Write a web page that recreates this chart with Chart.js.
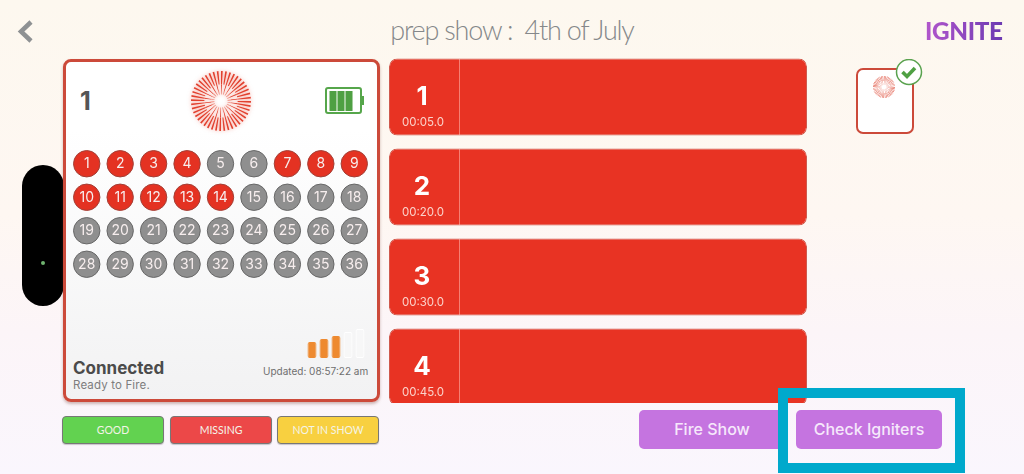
<!DOCTYPE html>
<html>
<head>
<meta charset="utf-8">
<title>prep show</title>
<script src="https://cdn.jsdelivr.net/npm/chart.js@4"></script>
<style>
html, body { margin: 0; padding: 0; }
body { width: 1024px; height: 474px; overflow: hidden; position: relative; font-family: Inter, Roboto, sans-serif;
  background: linear-gradient(180deg, #fdf8ef 0%, #fef7f2 45%, #fcf5f8 70%, #faf6fd 100%); }
.abs { position: absolute; }
canvas { position: absolute; display: block; }
#title { left: 312px; width: 400px; top: 13px; text-align: center; font: 300 27px Lato, sans-serif; color: #85888a; letter-spacing: -1.2px; white-space: pre; }
#logo { left: 925px; top: 16px; font: 900 24.3px Lato, sans-serif; letter-spacing: -.35px;
  background: linear-gradient(90deg, #b256cc, #6c3ab2); -webkit-background-clip: text; background-clip: text; color: transparent; }
#pill { left: 22px; top: 165px; width: 42px; height: 141px; border-radius: 21px; background: #000; }
#dot { left: 41px; top: 261px; width: 4px; height: 4px; border-radius: 50%; background: #6fb36f; }
#panel { left: 62.5px; top: 59px; width: 311px; height: 337px; border: 3px solid #cc4a3a; border-radius: 8px;
  background: linear-gradient(180deg, #fff 0%, #fff 20%, #f2f2f3 100%); box-shadow: 0 2px 3px rgba(120,60,50,.35); }
#panelNo { left: 80px; top: 86px; font: 700 25px Inter, sans-serif; color: #555; }
#batt { left: 325px; top: 87px; width: 33px; height: 23px; border: 2px solid #56a64b; border-radius: 3px; }
#battTip { left: 362px; top: 96px; width: 2px; height: 9px; background: #56a64b; }
#connected { left: 73px; top: 358px; font: 700 17px Inter, sans-serif; color: #4b4b4b; }
#ready { left: 73px; top: 378px; font: 400 11.5px Inter, sans-serif; color: #7d7d7d; letter-spacing: .15px; }
#updated { left: 263px; top: 365px; font: 400 10px Inter, sans-serif; color: #6f6f6f; white-space: nowrap; }
.key { top: 416px; height: 26px; width: 100px; border: 1px solid #777; border-radius: 4px; text-align: center; font: 400 10.5px/26px Lato, sans-serif; color: #f4f4e8; box-shadow: 0 1px 1px rgba(0,0,0,.2); }
#thumb { left: 856px; top: 68px; width: 54px; height: 62px; border: 2px solid #cc4a3a; border-radius: 7px; background: #fff; }
#check { left: 895px; top: 59px; }
.btn { top: 410px; height: 39px; border-radius: 5px; background: #c574e0; color: #f6e8fb; text-align: center; font: 500 16px/39px Inter, sans-serif; }
#frame { left: 778px; top: 388px; width: 167px; height: 65px; border: 10px solid #00a9cc; }
#cueClip { left: 389px; top: 52px; width: 418px; height: 351px; overflow: hidden; }
</style>
</head>
<body>
<svg class="abs" style="left:16px;top:18px" width="20" height="28"><polyline points="15,4 5,13.5 15,23" fill="none" stroke="#8e9193" stroke-width="4.5"/></svg>
<div class="abs" id="title">prep show :  4th of July</div>
<div class="abs" id="logo">IGNITE</div>
<div class="abs" id="pill"></div>
<div class="abs" id="dot"></div>

<div class="abs" id="panel"></div>
<div class="abs" id="panelNo">1</div>
<canvas id="burstChart" width="60" height="60" style="left:190.5px;top:71px;filter:drop-shadow(0 0 2px rgba(232,70,50,.55))"></canvas>
<div class="abs" id="batt"></div>
<div class="abs" id="battTip"></div>
<canvas id="batteryChart" width="32" height="20" style="left:329px;top:91px"></canvas>
<canvas id="padChart" width="301" height="134" style="left:70px;top:147px"></canvas>
<canvas id="signalChart" width="60" height="32" style="left:306px;top:326px"></canvas>
<div class="abs" id="connected">Connected</div>
<div class="abs" id="ready">Ready to Fire.</div>
<div class="abs" id="updated">Updated: 08:57:22 am</div>

<div class="abs key" style="left:62px;background:#62d250">GOOD</div>
<div class="abs key" style="left:170px;background:#ec4848">MISSING</div>
<div class="abs key" style="left:277px;background:#f8d040">NOT IN SHOW</div>

<div class="abs" id="cueClip"><canvas id="cueChart" width="418" height="360" style="left:0;top:0"></canvas></div>

<div class="abs" id="thumb"></div>
<canvas id="thumbBurst" width="22" height="22" style="left:873px;top:76px"></canvas>
<svg class="abs" id="check" width="30" height="28"><circle cx="14" cy="13" r="12.5" fill="#fff" stroke="#5aa24f" stroke-width="1.5"/><polyline points="7.5,13 12,17.5 20,9" fill="none" stroke="#4fa043" stroke-width="3.6"/></svg>

<div class="abs btn" style="left:639px;width:146px">Fire Show</div>
<div class="abs btn" style="left:796px;width:146px">Check Igniters</div>
<div class="abs" id="frame"></div>

<script>
const padNumbers = ['1','2','3','4','5','6','7','8','9','10','11','12','13','14','15','16','17','18',
    '19','20','21','22','23','24','25','26','27','28','29','30','31','32','33','34','35','36'];
const padColumns = [1,2,3,4,5,6,7,8,9,1,2,3,4,5,6,7,8,9,1,2,3,4,5,6,7,8,9,1,2,3,4,5,6,7,8,9];
const padRows = [1,1,1,1,1,1,1,1,1,2,2,2,2,2,2,2,2,2,3,3,3,3,3,3,3,3,3,4,4,4,4,4,4,4,4,4];
const padArmed = [1,1,1,1,0,0,1,1,1,1,1,1,1,1,0,0,0,0,0,0,0,0,0,0,0,0,0,0,0,0,0,0,0,0,0,0];

const cueNumbers = ['1','2','3','4'];
const cueTimes = ['00:05.0','00:20.0','00:30.0','00:45.0'];
const cueValues = [100,100,100,100];

const signalBars = ['1','2','3','4','5'];
const signalHeights = [16,19,22,26,29];
const signalActive = [1,1,1,0,0];

const batteryCells = ['1','2','3','4'];
const batteryLevels = [1,1,1,0];

const burstRays = [2,3,2,3,2,3,2,3,2,3,2,3,2,3,2,3,2,3,2,3,2,3,2,3,2,3,2,3,2,3,2,3,2,3,2,3,2,3,2,3,2,3,2,3,
    2,3,2,3,2,3,2,3,2,3,2,3,2,3,2,3,2,3,2,3,2,3,2,3,2,3,2,3,2,3,2,3,2,3,2,3,2,3,2,3,2,3,2,3];
const burstDashes = [1,2,1,2,1,2,1,2,1,2,1,2,1,2,1,2,1,2,1,2,1,2,1,2,1,2,1,2,1,2,1,2,1,2,1,2,1,2,1,2,1,2,1,2];

const off = { legend: { display: false }, tooltip: { enabled: false } };
const hidden = { display: false };

// number labels on the igniter pads
const padLabels = {
    id: 'padLabels',
    afterDatasetsDraw(chart) {
        const c = chart.ctx;
        c.save();
        c.font = '400 14px Inter';
        c.fillStyle = '#f7eeee';
        c.textAlign = 'center';
        c.textBaseline = 'middle';
        chart.getDatasetMeta(0).data.forEach((p, i) => c.fillText(padNumbers[i], p.x, p.y + 0.5));
        c.restore();
    }
};

// cue number, time and divider inside each red bar
const cueLabels = {
    id: 'cueLabels',
    afterDatasetsDraw(chart) {
        const c = chart.ctx;
        c.save();
        c.textAlign = 'center';
        c.textBaseline = 'middle';
        chart.getDatasetMeta(0).data.forEach((b, i) => {
            c.strokeStyle = 'rgba(255,190,180,.55)';
            c.beginPath();
            c.moveTo(70.5, b.y - 38);
            c.lineTo(70.5, b.y + 38);
            c.stroke();
            c.fillStyle = '#fff';
            c.font = '700 26px Inter';
            c.fillText(cueNumbers[i], 33, b.y);
            c.fillStyle = '#fbd3cb';
            c.font = '400 11.5px Inter';
            c.fillText(cueTimes[i], 34, b.y + 26);
        });
        c.restore();
    }
};

new Chart(document.getElementById('padChart'), {
    type: 'scatter',
    data: { datasets: [{
        data: padColumns.map((x, i) => ({ x: x, y: padRows[i] })),
        pointRadius: 13.2,
        pointBorderWidth: 1,
        pointBackgroundColor: padArmed.map(a => a ? '#e43222' : '#8f8f8f'),
        pointBorderColor: padArmed.map(a => a ? '#a23f36' : '#676767')
    }] },
    options: {
        responsive: false, animation: false, plugins: off,
        layout: { autoPadding: false },
        scales: {
            x: { display: false, min: 0.5, max: 9.5 },
            y: { display: false, min: 0.5, max: 4.5, reverse: true }
        }
    },
    plugins: [padLabels]
});

new Chart(document.getElementById('cueChart'), {
    type: 'bar',
    data: { labels: cueNumbers, datasets: [{
        data: cueValues,
        backgroundColor: '#e83323',
        borderColor: '#cf5a4e',
        borderWidth: 1,
        borderRadius: 8,
        borderSkipped: false,
        barPercentage: 77 / 90,
        categoryPercentage: 1
    }] },
    options: {
        indexAxis: 'y', responsive: false, animation: false, plugins: off,
        scales: { x: { display: false, min: 0, max: 100 }, y: hidden }
    },
    plugins: [cueLabels]
});

new Chart(document.getElementById('signalChart'), {
    type: 'bar',
    data: { labels: signalBars, datasets: [{
        data: signalHeights,
        backgroundColor: signalActive.map(a => a ? '#ee8a30' : 'rgba(255,255,255,.25)'),
        borderColor: signalActive.map(a => a ? '#ee8a30' : '#ffffff'),
        borderWidth: 1,
        borderRadius: 2,
        borderSkipped: false,
        barPercentage: 0.75,
        categoryPercentage: 1
    }] },
    options: {
        responsive: false, animation: false, plugins: off,
        scales: { x: hidden, y: { display: false, min: 0, max: 32 } }
    }
});

new Chart(document.getElementById('batteryChart'), {
    type: 'bar',
    data: { labels: batteryCells, datasets: [{
        data: batteryLevels,
        backgroundColor: '#4fa043',
        barPercentage: 0.88,
        categoryPercentage: 1
    }] },
    options: {
        responsive: false, animation: false, plugins: off,
        scales: { x: hidden, y: { display: false, min: 0, max: 1 } }
    }
});

function burst(id, rayColor, dashColor) {
    new Chart(document.getElementById(id), {
        type: 'doughnut',
        data: { datasets: [
            { data: burstRays, weight: 4, borderWidth: 0, backgroundColor: burstRays.map((v, i) => i % 2 ? 'rgba(0,0,0,0)' : rayColor) },
            { data: burstRays, weight: 2, borderWidth: 0, backgroundColor: burstRays.map((v, i) => i % 4 ? 'rgba(0,0,0,0)' : rayColor) },
            { data: burstDashes, weight: 1, borderWidth: 0, backgroundColor: burstDashes.map((v, i) => i % 2 ? 'rgba(0,0,0,0)' : dashColor) }
        ] },
        options: { responsive: false, animation: false, cutout: '22%', plugins: off }
    });
}
burst('burstChart', '#e2412f', '#ee8a7c');
burst('thumbBurst', '#e2604f', '#f0a398');
</script>
</body>
</html>
